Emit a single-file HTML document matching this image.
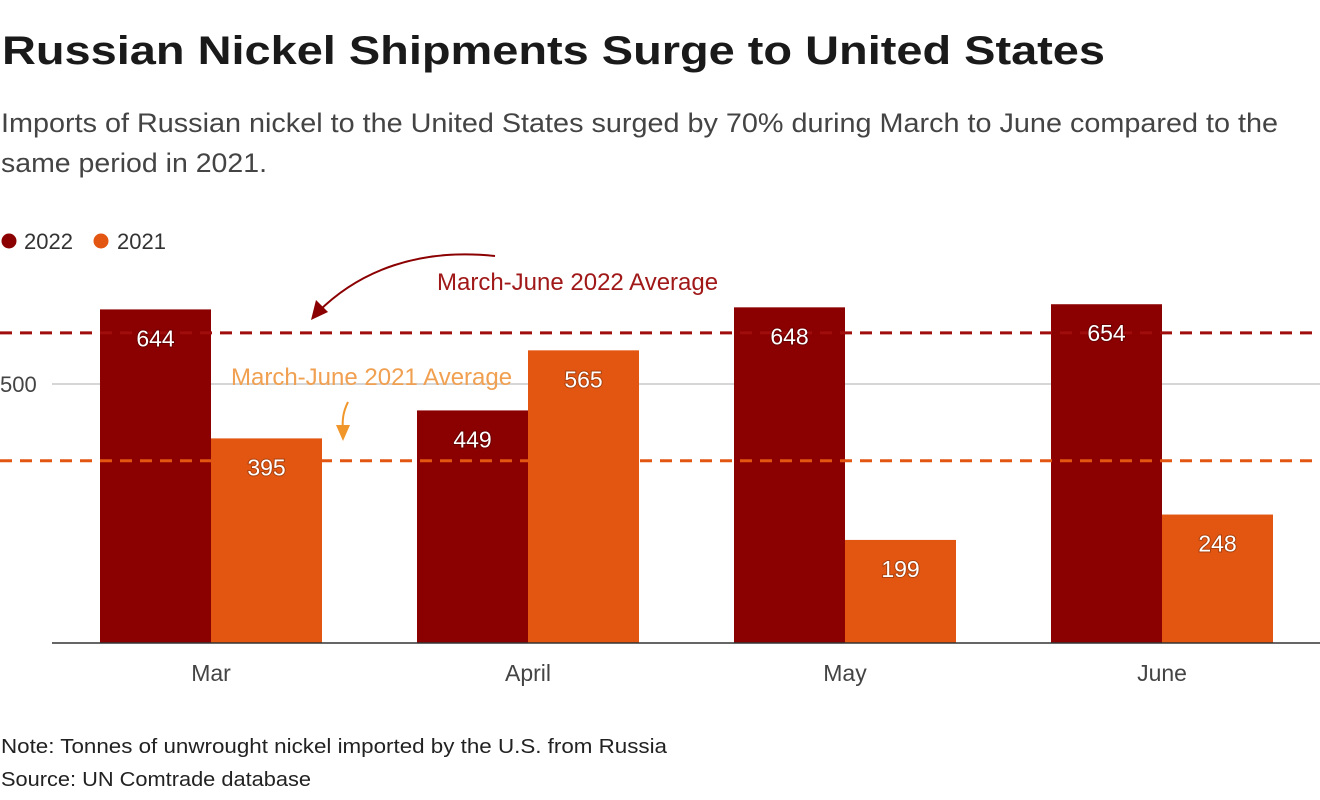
<!DOCTYPE html>
<html><head><meta charset="utf-8"><style>
html,body{margin:0;padding:0;background:#fff;width:1320px;height:800px;overflow:hidden}
text{font-family:"Liberation Sans",sans-serif}
</style></head><body>
<svg id="chart" width="1320" height="800" xmlns="http://www.w3.org/2000/svg">
<text x="2" y="64" font-size="40" font-weight="bold" fill="#1a1a1a" textLength="1103" lengthAdjust="spacingAndGlyphs">Russian Nickel Shipments Surge to United States</text>
<text x="1" y="132" font-size="27" fill="#444" textLength="1277" lengthAdjust="spacingAndGlyphs">Imports of Russian nickel to the United States surged by 70% during March to June compared to the</text>
<text x="1" y="172" font-size="27" fill="#444" textLength="266" lengthAdjust="spacingAndGlyphs">same period in 2021.</text>
<g>
<circle cx="9" cy="241" r="7.5" fill="#8b0000"/>
<text x="24" y="249" font-size="22" fill="#333">2022</text>
<circle cx="101" cy="241" r="7.5" fill="#e25612"/>
<text x="117" y="249" font-size="22" fill="#333">2021</text>
</g>
<g id="plot"></g>
<text x="1" y="753" font-size="20" fill="#222" textLength="666" lengthAdjust="spacingAndGlyphs">Note: Tonnes of unwrought nickel imported by the U.S. from Russia</text>
<text x="1" y="786" font-size="20" fill="#222" textLength="310" lengthAdjust="spacingAndGlyphs">Source: UN Comtrade database</text>
</svg>
<script>
const categories = ["Mar", "April", "May", "June"];
const values2022 = [644, 449, 648, 654];
const values2021 = [395, 565, 199, 248];
const yTicks = [500];
const NS = "http://www.w3.org/2000/svg";
const plot = document.getElementById("plot");
const x0 = 52.5, band = 317, baseY = 643, pxPerUnit = 259 / 500, barW = 111;
const y = v => baseY - v * pxPerUnit;
const xc = i => x0 + band * i + band / 2;
function mk(tag, attrs) { const e = document.createElementNS(NS, tag); for (const k in attrs) e.setAttribute(k, attrs[k]); plot.appendChild(e); return e; }
yTicks.forEach(t => {
  const g = mk("line", {x1: 52, x2: 1320, y1: y(t), y2: y(t), stroke: "#c8c8c8", "stroke-width": 1.5});
  
  
  const tl = mk("text", {x: 0, y: y(t) + 8, "font-size": 22, fill: "#444"});
  tl.textContent = t;
  
  
});
const series = [[values2022, "#8b0000", -barW, "2022"], [values2021, "#e25612", 0, "2021"]];
series.forEach(([vals, col, off, nm]) => {
  vals.forEach((v, i) => {
    const r = mk("rect", {x: xc(i) + off, y: y(v), width: barW, height: baseY - y(v), fill: col});
    
    
  });
});
mk("line", {x1: 52, x2: 1320, y1: baseY, y2: baseY, stroke: "#333", "stroke-width": 1.5});

categories.forEach((c, i) => {
  const t = mk("text", {x: xc(i), y: 681, "font-size": 23, fill: "#444", "text-anchor": "middle"});
  t.textContent = c;
  
  
});
const avg = a => a.reduce((s, v) => s + v, 0) / a.length;
const a22 = mk("line", {x1: 0, x2: 1320, y1: y(avg(values2022)), y2: y(avg(values2022)), stroke: "#a00d0d", "stroke-width": 3, "stroke-dasharray": "12 8"});


const a21 = mk("line", {x1: 0, x2: 1320, y1: y(avg(values2021)), y2: y(avg(values2021)), stroke: "#e25612", "stroke-width": 3, "stroke-dasharray": "12 8"});


series.forEach(([vals, col, off, nm]) => {
  vals.forEach((v, i) => {
    const t = mk("text", {x: xc(i) + off + barW / 2, y: y(v) + 37, "font-size": 23, fill: "#fff", "text-anchor": "middle", style: "paint-order:stroke;stroke:rgba(0,0,0,0.25);stroke-width:2px"});
    t.textContent = v;
    
    
  });
});
const t1 = mk("text", {x: 437, y: 290, "font-size": 24, fill: "#a01818"});
t1.textContent = "March-June 2022 Average";


const p1 = mk("path", {d: "M495,256 C420,248 360,270 318,312", fill: "none", stroke: "#8b0000", "stroke-width": 2});


const h1 = mk("path", {d: "M311,320 L316,300 L328,312 Z", fill: "#8b0000"});


const t2 = mk("text", {x: 231, y: 385, "font-size": 24, fill: "#f0a050"});
t2.textContent = "March-June 2021 Average";


const p2 = mk("path", {d: "M348,402 C343,412 342,420 343,432", fill: "none", stroke: "#f0962a", "stroke-width": 2});


const h2 = mk("path", {d: "M343,441 L336,425 L350,425 Z", fill: "#f0962a"});


</script>
</body></html>
